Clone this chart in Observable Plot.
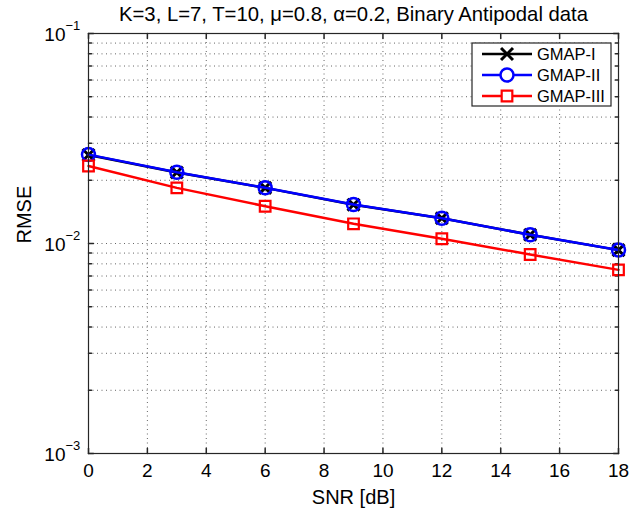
<!DOCTYPE html>
<html>
<head>
<meta charset="utf-8">
<script src="https://cdn.jsdelivr.net/npm/d3@7"></script>
<script src="https://cdn.jsdelivr.net/npm/@observablehq/plot@0.6"></script>
<style>
  html, body { margin: 0; padding: 0; background: #fff; }
  #chart { width: 643px; height: 512px; }
</style>
</head>
<body>
<div id="chart"></div>
<script>
// ---- data ----
const snr = [0, 3, 6, 9, 12, 15, 18];
const gmap1 = [0.0264, 0.0218, 0.0184, 0.0153, 0.0132, 0.0110, 0.00930];
const gmap2 = [0.0265, 0.02185, 0.01842, 0.01534, 0.0132, 0.0110, 0.00931];
const gmap3 = [0.0234, 0.0184, 0.01505, 0.01241, 0.01053, 0.00886, 0.00749];
const seriesNames = ["GMAP-I", "GMAP-II", "GMAP-III"];
const xTicks = [0, 2, 4, 6, 8, 10, 12, 14, 16, 18];
const yMajor = [1e-3, 1e-2, 1e-1];
const yExp = ["\u22123", "\u22122", "\u22121"];
const yMinor = [2e-3,3e-3,4e-3,5e-3,6e-3,7e-3,8e-3,9e-3,2e-2,3e-2,4e-2,5e-2,6e-2,7e-2,8e-2,9e-2];
const titleText = "K=3, L=7, T=10, \u03bc=0.8, \u03b1=0.2, Binary Antipodal data";
const xLabel = "SNR [dB]";
const yLabel = "RMSE";

const rows = (vals, s) => snr.map((x, i) => ({x, y: vals[i], s}));
const d1 = rows(gmap1, seriesNames[0]);
const d2 = rows(gmap2, seriesNames[1]);
const d3r = rows(gmap3, seriesNames[2]);

const tickShape = {draw(context, l) { context.moveTo(0, 0); context.lineTo(0, -l); }};
const axisColor = "#262626";
const gridStyle = {stroke: "#555", strokeDasharray: "1,3.5", strokeWidth: 0.9};
const FONT = "Liberation Sans, Arial, Helvetica, sans-serif";

const plot = Plot.plot({
  width: 643,
  height: 512,
  marginLeft: 88,
  marginRight: 25,
  marginTop: 33,
  marginBottom: 59,
  style: {fontFamily: FONT, background: "#fff", color: "#000"},
  x: {domain: [0, 18], axis: null},
  y: {type: "log", domain: [1e-3, 1e-1], axis: null},
  marks: [
    Plot.ruleX(xTicks.slice(1, -1), {x: d => d, ...gridStyle}),
    Plot.ruleY(yMinor.concat([1e-2]), {y: d => d, ...gridStyle}),
    // ticks (inward, all four sides)
    Plot.vector(xTicks, {x: d => d, frameAnchor: "bottom", rotate: 0, length: 5, anchor: "start", shape: tickShape, stroke: axisColor}),
    Plot.vector(xTicks, {x: d => d, frameAnchor: "top", rotate: 180, length: 5, anchor: "start", shape: tickShape, stroke: axisColor}),
    Plot.vector(yMajor, {y: d => d, frameAnchor: "left", rotate: 90, length: 5, anchor: "start", shape: tickShape, stroke: axisColor}),
    Plot.vector(yMajor, {y: d => d, frameAnchor: "right", rotate: -90, length: 5, anchor: "start", shape: tickShape, stroke: axisColor}),
    Plot.vector(yMinor, {y: d => d, frameAnchor: "left", rotate: 90, length: 3, anchor: "start", shape: tickShape, stroke: axisColor}),
    Plot.vector(yMinor, {y: d => d, frameAnchor: "right", rotate: -90, length: 3, anchor: "start", shape: tickShape, stroke: axisColor}),
    // series
    Plot.line(d1, {x: "x", y: "y", stroke: "#000", strokeWidth: 2.5}),
    Plot.dot(d1, {x: "x", y: "y", symbol: "times", r: 5.5, stroke: "#000", strokeWidth: 3}),
    Plot.line(d2, {x: "x", y: "y", stroke: "#0000ff", strokeWidth: 2.5}),
    Plot.dot(d2, {x: "x", y: "y", symbol: "circle", r: 6.5, stroke: "#0000ff", strokeWidth: 2.5, fill: "none"}),
    Plot.line(d3r, {x: "x", y: "y", stroke: "#ff0000", strokeWidth: 2.5}),
    Plot.dot(d3r, {x: "x", y: "y", symbol: "square", r: 6, stroke: "#ff0000", strokeWidth: 2.2, fill: "none"}),
    Plot.frame({stroke: axisColor, strokeWidth: 1.2}),
    // tick labels
    Plot.text(xTicks, {x: d => d, frameAnchor: "bottom", dy: 17, text: d => String(d), fontSize: 19, lineAnchor: "middle"}),
    Plot.text(yMajor, {y: d => d, frameAnchor: "left", dx: -23, dy: 1, text: () => "10", textAnchor: "end", fontSize: 19, lineAnchor: "middle"}),
    Plot.text(yMajor, {y: d => d, frameAnchor: "left", dx: -23, dy: -8, text: (d, i) => yExp[i], textAnchor: "start", fontSize: 13, lineAnchor: "middle"}),
    // axis labels & title
    Plot.text([xLabel], {frameAnchor: "bottom", dy: 44, text: d => d, fontSize: 20, lineAnchor: "middle"}),
    Plot.text([yLabel], {frameAnchor: "left", dx: -64, rotate: -90, text: d => d, fontSize: 20, lineAnchor: "middle"}),
    Plot.text([titleText], {frameAnchor: "top", dy: -19, text: d => d, fontSize: 20.3, lineAnchor: "middle"})
  ]
});

document.getElementById("chart").appendChild(plot);

// ---- legend (drawn into the same svg) ----
const svg = d3.select(plot);
const leg = svg.append("g").attr("font-family", FONT).attr("text-anchor", "start");
const lx = 472, ly = 43, lw = 139, lh = 63;
leg.append("rect").attr("x", lx).attr("y", ly).attr("width", lw).attr("height", lh)
  .attr("fill", "#fff").attr("stroke", axisColor).attr("stroke-width", 1.2);
const legColors = ["#000", "#0000ff", "#ff0000"];
const legSymbols = [d3.symbolTimes, d3.symbolCircle, d3.symbolSquare];
const legR = [5.5, 6.5, 6];
const legSW = [3, 2.5, 2.2];
seriesNames.forEach((name, i) => {
  const cy = ly + 11 + i * 21;
  leg.append("line").attr("x1", lx + 10).attr("x2", lx + 60).attr("y1", cy).attr("y2", cy)
    .attr("stroke", legColors[i]).attr("stroke-width", 2.5);
  leg.append("path").attr("transform", `translate(${lx + 35},${cy})`)
    .attr("d", d3.symbol(legSymbols[i], Math.PI * legR[i] * legR[i])())
    .attr("fill", i === 0 ? "none" : "#fff").attr("stroke", legColors[i]).attr("stroke-width", legSW[i]);
  leg.append("text").attr("x", lx + 65).attr("y", cy).attr("dy", "0.35em")
    .attr("font-size", 16.5).attr("fill", "#000").text(name);
});
</script>
</body>
</html>
